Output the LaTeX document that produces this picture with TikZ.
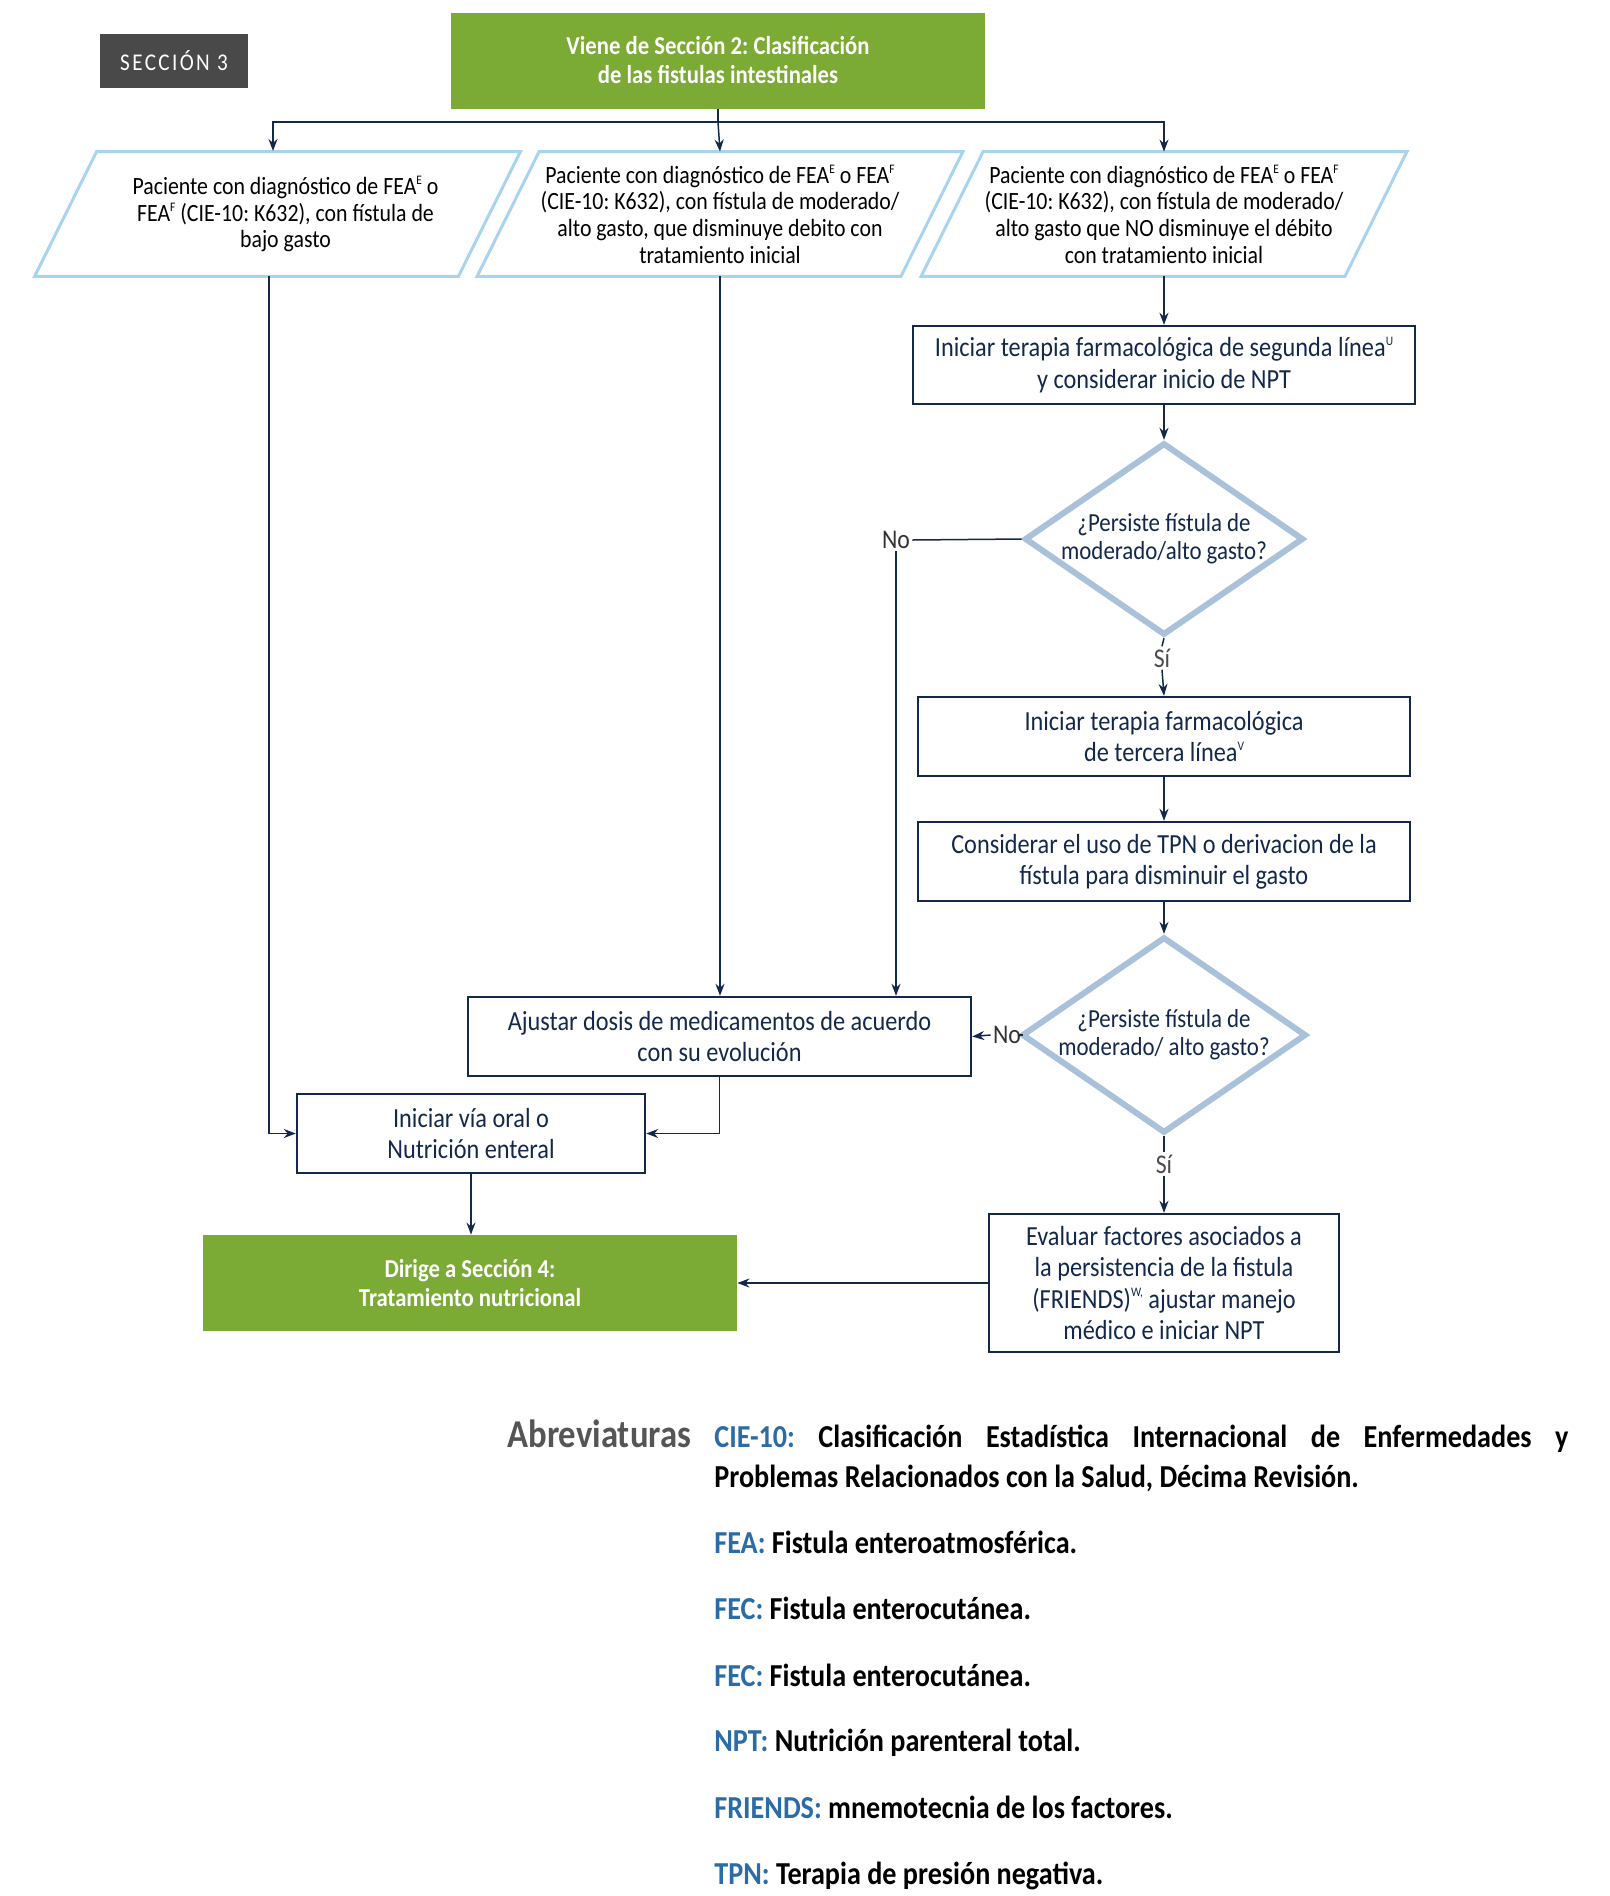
\documentclass[tikz,border=0pt]{standalone}
\usepackage{fontspec}
\setmainfont{Carlito}[FakeStretch=0.88]
\usetikzlibrary{shapes.geometric,arrows.meta}
\definecolor{azulosc}{HTML}{14284B}
\definecolor{celeste}{HTML}{A8D4EF}
\definecolor{acero}{HTML}{A9C1D9}
\definecolor{verdeguia}{HTML}{7BAA35}
\definecolor{grisoscuro}{HTML}{494949}
\definecolor{azulabr}{HTML}{2B6CA8}
\definecolor{grisabr}{HTML}{555555}
\frenchspacing
\newcommand{\letracaja}{\fontsize{13.8}{15.6}\selectfont}
\newcommand{\letraentrada}{\fontsize{12.4}{13.3}\selectfont}
\newcommand{\letraabr}{\fontsize{16}{18}\selectfont\bfseries}
\newcommand{\indice}[1]{\raisebox{0.85ex}{\fontsize{6.5}{7}\selectfont #1}}
\tikzset{
  caja/.style={draw=azulosc, line width=1.2pt, fill=white, text=azulosc, align=center, inner sep=0pt, font=\letracaja},
  cajaverde/.style={fill=verdeguia, text=white, align=center, inner sep=0pt, minimum width=267pt, minimum height=48pt, font=\fontsize{12.9}{14.5}\selectfont\bfseries},
  entrada/.style={align=center, inner sep=0pt, minimum width=242.5pt, minimum height=62pt, text=black, font=\letraentrada},
  borde/.style={draw=celeste, line width=1.5pt},
  decision/.style={shape=diamond, aspect=1.45, draw=acero, line width=3pt, fill=white, text=azulosc, align=center,
    inner sep=0pt, minimum width=133pt, minimum height=92pt, font=\fontsize{13}{14}\selectfont},
  flecha/.style={draw=azulosc, line width=0.75pt, -{Stealth[length=6pt,width=4.5pt]}},
  linea/.style={draw=azulosc, line width=0.75pt},
  etiqueta/.style={inner sep=1pt, font=\fontsize{13.5}{14}\selectfont},
}
\begin{document}
\begin{tikzpicture}[x=0.5pt,y=-0.5pt]
  \useasboundingbox (0,0) rectangle (1610,1896);
  \fill[white] (0,0) rectangle (1610,1896);
  %ENCABEZADO
  \node[fill=grisoscuro, text=white, minimum width=74pt, minimum height=27pt, inner sep=0pt, font=\fontsize{12}{13}\selectfont\addfontfeature{LetterSpace=10}] (sec) at (174,61) {SECCIÓN 3};
  \node[cajaverde] (viene) at (718,60.5) {Viene de Sección 2: Clasificación\\de las fistulas intestinales};
  %ENTRADAS
  \node[entrada] (bajo) at (277.5,214) {\hspace*{8pt}Paciente con diagnóstico de FEA\indice{E} o\\\hspace*{8pt}FEA\indice{F} (CIE-10: K632), con fístula de\\\hspace*{8pt}bajo gasto};
  \node[entrada] (disminuye) at (720,214) {Paciente con diagnóstico de FEA\indice{E} o FEA\indice{F}\\(CIE-10: K632), con fístula de moderado/\\alto gasto, que disminuye debito con\\tratamiento inicial};
  \node[entrada] (nodisminuye) at (1164,214) {Paciente con diagnóstico de FEA\indice{E} o FEA\indice{F}\\(CIE-10: K632), con fístula de moderado/\\alto gasto que NO disminuye el débito\\con tratamiento inicial};
  \foreach \n in {bajo,disminuye,nodisminuye}
    \draw[borde] ([xshift=31pt]\n.north west) -- (\n.north east) -- ([xshift=-31pt]\n.south east) -- (\n.south west) -- cycle;
  %COLUMNA DERECHA
  \node[caja, minimum width=251pt, minimum height=39pt] (segunda) at (1164,365) {Iniciar terapia farmacológica de segunda línea\indice{U}\\y considerar inicio de NPT};
  \node[decision] (persiste1) at (1164,539) {¿Persiste fístula de\\moderado/alto gasto?};
  \node[caja, minimum width=246pt, minimum height=39.5pt] (tercera) at (1164,736.5) {Iniciar terapia farmacológica\\de tercera línea\indice{V}};
  \node[caja, minimum width=246pt, minimum height=39.5pt] (considerar) at (1164,861.5) {Considerar el uso de TPN o derivacion de la\\fístula para disminuir el gasto};
  \node[decision] (persiste2) at (1164,1035) {¿Persiste fístula de\\moderado/ alto gasto?};
  \node[caja, minimum width=175pt, minimum height=69pt] (evaluar) at (1164,1283) {Evaluar factores asociados a\\la persistencia de la fistula\\(FRIENDS)\indice{W,} ajustar manejo\\médico e iniciar NPT};
  %COLUMNA IZQUIERDA
  \node[caja, minimum width=251.5pt, minimum height=39.5pt] (ajustar) at (719.5,1036.5) {Ajustar dosis de medicamentos de acuerdo\\con su evolución};
  \node[caja, minimum width=174pt, minimum height=39.5pt] (oral) at (471,1133.5) {Iniciar vía oral o\\Nutrición enteral};
  \node[cajaverde] (dirige) at (470,1283) {Dirige a Sección 4:\\Tratamiento nutricional};
  %ETIQUETAS
  \node[etiqueta, text=black!80] (no1) at (896,540) {No};
  \node[etiqueta, text=black!70] (si1) at (1162,658) {Sí};
  \node[etiqueta, text=black!80] (no2) at (1007,1035) {No};
  \node[etiqueta, text=black!70] (si2) at (1164,1164) {Sí};
  %FLECHAS
  \coordinate (reparto) at (718,122);
  \draw[linea] (viene.south) -- (reparto);
  \draw[flecha] (reparto) -| (273,151);
  \draw[flecha] (reparto) -- (disminuye.center |- disminuye.north);
  \draw[flecha] (reparto) -| (nodisminuye.center |- nodisminuye.north);
  \draw[flecha] (nodisminuye.center |- nodisminuye.south) -- (segunda.north);
  \draw[flecha] (segunda.south) -- (persiste1.north);
  \draw[linea] (persiste1.west) -- (no1.east);
  \draw[flecha] (no1.south) -- (no1.south |- ajustar.north);
  \draw[linea] (persiste1.south) -- (si1.north);
  \draw[flecha] (si1.south) -- (tercera.north);
  \draw[flecha] (tercera.south) -- (considerar.north);
  \draw[flecha] (considerar.south) -- (persiste2.north);
  \draw[linea] (persiste2.west) -- (no2.east);
  \draw[flecha] (no2.west) -- (ajustar.east);
  \draw[linea] (persiste2.south) -- (si2.north);
  \draw[flecha] (si2.south) -- (evaluar.north);
  \draw[flecha] (evaluar.west) -- (dirige.east);
  \draw[flecha] (disminuye.center |- disminuye.south) -- (disminuye.center |- ajustar.north);
  \draw[flecha] (ajustar.south) |- (oral.east);
  \draw[flecha] (269,276) |- (oral.west);
  \draw[flecha] (oral.south) -- (oral.south |- dirige.north);
  %ABREVIATURAS
  \node[anchor=base west, inner sep=0pt, text=grisabr, font=\fontsize{19.7}{22}\selectfont\bfseries] (abrev) at (507,1447) {Abreviaturas};
  \node[anchor=base west, inner sep=0pt, font=\letraabr] (cie) at (714,1447) {\makebox[427pt][s]{\textcolor{azulabr}{CIE-10:} Clasificación Estadística Internacional de Enfermedades y}};
  \node[anchor=base west, inner sep=0pt, font=\letraabr] (cie2) at (714,1487) {Problemas Relacionados con la Salud, Décima Revisión.};
  \node[anchor=base west, inner sep=0pt, font=\letraabr] (fea) at (714,1553) {\textcolor{azulabr}{FEA:} Fistula enteroatmosférica.};
  \node[anchor=base west, inner sep=0pt, font=\letraabr] (fec) at (714,1619) {\textcolor{azulabr}{FEC:} Fistula enterocutánea.};
  \node[anchor=base west, inner sep=0pt, font=\letraabr] (fec2) at (714,1686) {\textcolor{azulabr}{FEC:} Fistula enterocutánea.};
  \node[anchor=base west, inner sep=0pt, font=\letraabr] (npt) at (714,1751) {\textcolor{azulabr}{NPT:} Nutrición parenteral total.};
  \node[anchor=base west, inner sep=0pt, font=\letraabr] (friends) at (714,1818) {\textcolor{azulabr}{FRIENDS:} mnemotecnia de los factores.};
  \node[anchor=base west, inner sep=0pt, font=\letraabr] (tpn) at (714,1884) {\textcolor{azulabr}{TPN:} Terapia de presión negativa.};
\end{tikzpicture}
\end{document}
